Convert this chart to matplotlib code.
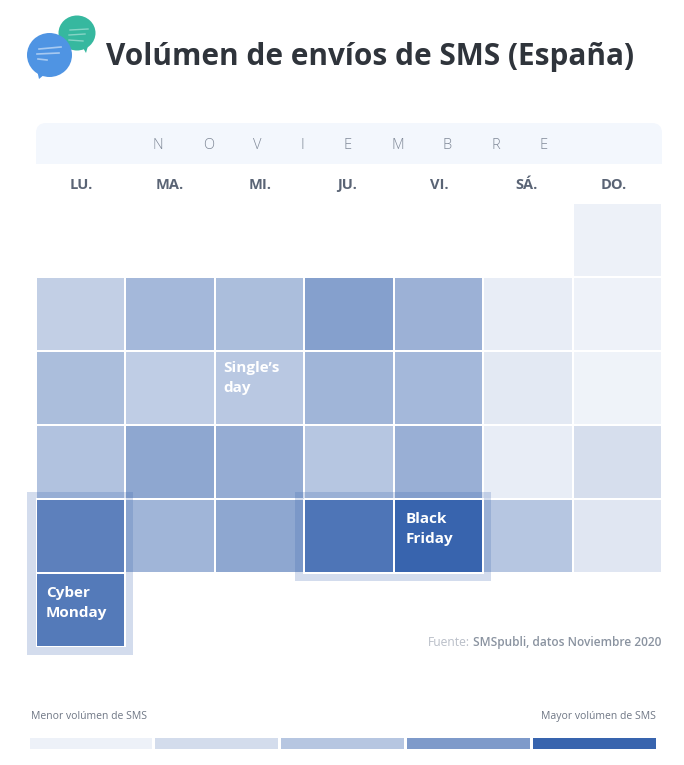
import numpy as np
import matplotlib
matplotlib.use('Agg')
import matplotlib.pyplot as plt
from matplotlib.colors import LinearSegmentedColormap
from matplotlib.patches import Ellipse, FancyBboxPatch, Polygon, Rectangle

plt.rcParams['font.family'] = ['Open Sans', 'DejaVu Sans']

# data: relative SMS volume per calendar cell, 0 = lowest, 100 = highest
days = ['LU.', 'MA.', 'MI.', 'JU.', 'VI.', 'SÁ.', 'DO.']
month = list('NOVIEMBRE')
week0 = [np.nan, np.nan, np.nan, np.nan, np.nan, np.nan, 2]
week1 = [40, 58, 55, 72, 62, 7, 1]
week2 = [55, 42, 48, 60, 58, 11, 0]
week3 = [52, 68, 65, 50, 63, 7, 23]
week4 = [87, 60, 68, 92, 100, 50, 14]
week5 = [90, np.nan, np.nan, np.nan, np.nan, np.nan, np.nan]
scale_values = [2, 25, 50, 75, 100]

W, H = 684, 765
BLUE = '#3864ae'
cmap = LinearSegmentedColormap.from_list(
    'sms', ['#eff3f9', '#d3dcec', '#b6c6e1', '#7f9bca', '#3864ae'])


def px_axes(fig, x0, y0, x1, y1):
    return fig.add_axes([x0 / W, 1 - y1 / H, (x1 - x0) / W, (y1 - y0) / H])


fig = plt.figure(figsize=(W / 100, H / 100), dpi=100, facecolor='white')

# calendar
cal = px_axes(fig, 36, 203, 662, 647)
values = np.array([week0, week1, week2, week3, week4, week5])
mesh_args = dict(cmap=cmap, vmin=0, vmax=100, edgecolors='white', linewidth=1.1)
cal.pcolormesh(np.ma.masked_invalid(values), zorder=1, **mesh_args)
cal.set_xlim(0, 7)
cal.set_ylim(6, 0)
cal.axis('off')

# halos go over the neighbours, highlighted cells are drawn again on top
col_px = 626 / 7
row_px = 444 / 6
halos = [(0, 4, 1, 2), (3, 4, 2, 1)]  # column, row, columns, rows
for c, r, nc, nr in halos:
    cal.add_patch(Rectangle((c - 9 / col_px, r - 7.5 / row_px), nc + 16.5 / col_px, nr + 15 / row_px,
                            facecolor=BLUE, alpha=0.22, edgecolor='none', zorder=2, clip_on=False))
    cal.pcolormesh(np.arange(c, c + nc + 1), np.arange(r, r + nr + 1),
                   values[r:r + nr, c:c + nc], zorder=3, **mesh_args)

# everything else is placed in pixels
ax = fig.add_axes([0, 0, 1, 1], facecolor='none')
ax.set_xlim(0, W)
ax.set_ylim(H, 0)
ax.axis('off')

# logo
ax.add_patch(Ellipse((77, 33), 37, 35, color='#36b89f', lw=0))
ax.add_patch(Polygon([[82, 46], [88, 46], [86, 53]], color='#36b89f', lw=0))
ax.add_patch(Ellipse((49.5, 55), 45, 44, color='#4f94e3', lw=0))
ax.add_patch(Polygon([[37, 70], [45, 74], [39, 79]], color='#4f94e3', lw=0))
for x0, x1, y0, y1 in [(70, 88, 30, 29), (69, 85, 35, 34), (69, 83, 40, 41)]:
    ax.plot([x0, x1], [y0, y1], color='white', lw=1, alpha=0.4)
for x0, x1, y0, y1 in [(39, 61, 49, 47), (37, 59, 54, 53), (38, 47, 59, 60)]:
    ax.plot([x0, x1], [y0, y1], color='white', lw=1.2, alpha=0.5)

ax.text(106, 56.5, 'Volúmen de envíos de SMS (España)', fontsize=21.4, fontweight='bold',
        color='#2f343b', va='center', ha='left')

# month header band, rounded on top only
ax.add_patch(FancyBboxPatch((46, 133), 606, 30, boxstyle='round,pad=10,rounding_size=10',
                            facecolor='#f3f7fd', edgecolor='none'))
ax.add_patch(Rectangle((36, 150), 626, 13.5, facecolor='#f3f7fd', edgecolor='none'))
ax.add_patch(Rectangle((30, 163.5), 640, 10, facecolor='white', edgecolor='none'))

month_x = [157.5, 208.5, 257.5, 302.5, 347.5, 397.5, 447.5, 495.5, 543.5]
for x, letter in zip(month_x, month):
    ax.text(x, 145, letter, fontsize=10.5, color='#7f8897', fontweight='light',
            ha='center', va='center')

day_x = [81, 170, 260, 347, 439, 527, 614]
for x, day in zip(day_x, days):
    ax.text(x, 189, day, fontsize=10.5, fontweight='bold', color='#5a6475',
            ha='center', va='baseline')

# event labels
for x, y, label in [(223, 368, 'Single’s'), (223, 388, 'day'), (406, 519, 'Black'),
                    (406, 539, 'Friday'), (46, 593, 'Cyber'), (46, 613, 'Monday')]:
    ax.text(x, y, label, fontsize=11, fontweight='bold', color='white', va='center')

# source
ax.text(428, 646, 'Fuente:', fontsize=8.7, color='#b9bec8', va='baseline')
ax.text(661, 646, 'SMSpubli, datos Noviembre 2020', fontsize=8.6, fontweight='semibold',
        color='#8a93a0', va='baseline', ha='right')

# colour scale
ax.text(31, 719, 'Menor volúmen de SMS', fontsize=7.5, color='#6f7785', va='baseline')
ax.text(656, 719, 'Mayor volúmen de SMS', fontsize=7.5, color='#6f7785', va='baseline', ha='right')
leg = px_axes(fig, 27.5, 736, 656.5, 750)
leg.pcolormesh([scale_values], cmap=cmap, vmin=0, vmax=100, edgecolors='white', linewidth=1)
leg.axis('off')

fig.savefig('out.png', dpi=100)
